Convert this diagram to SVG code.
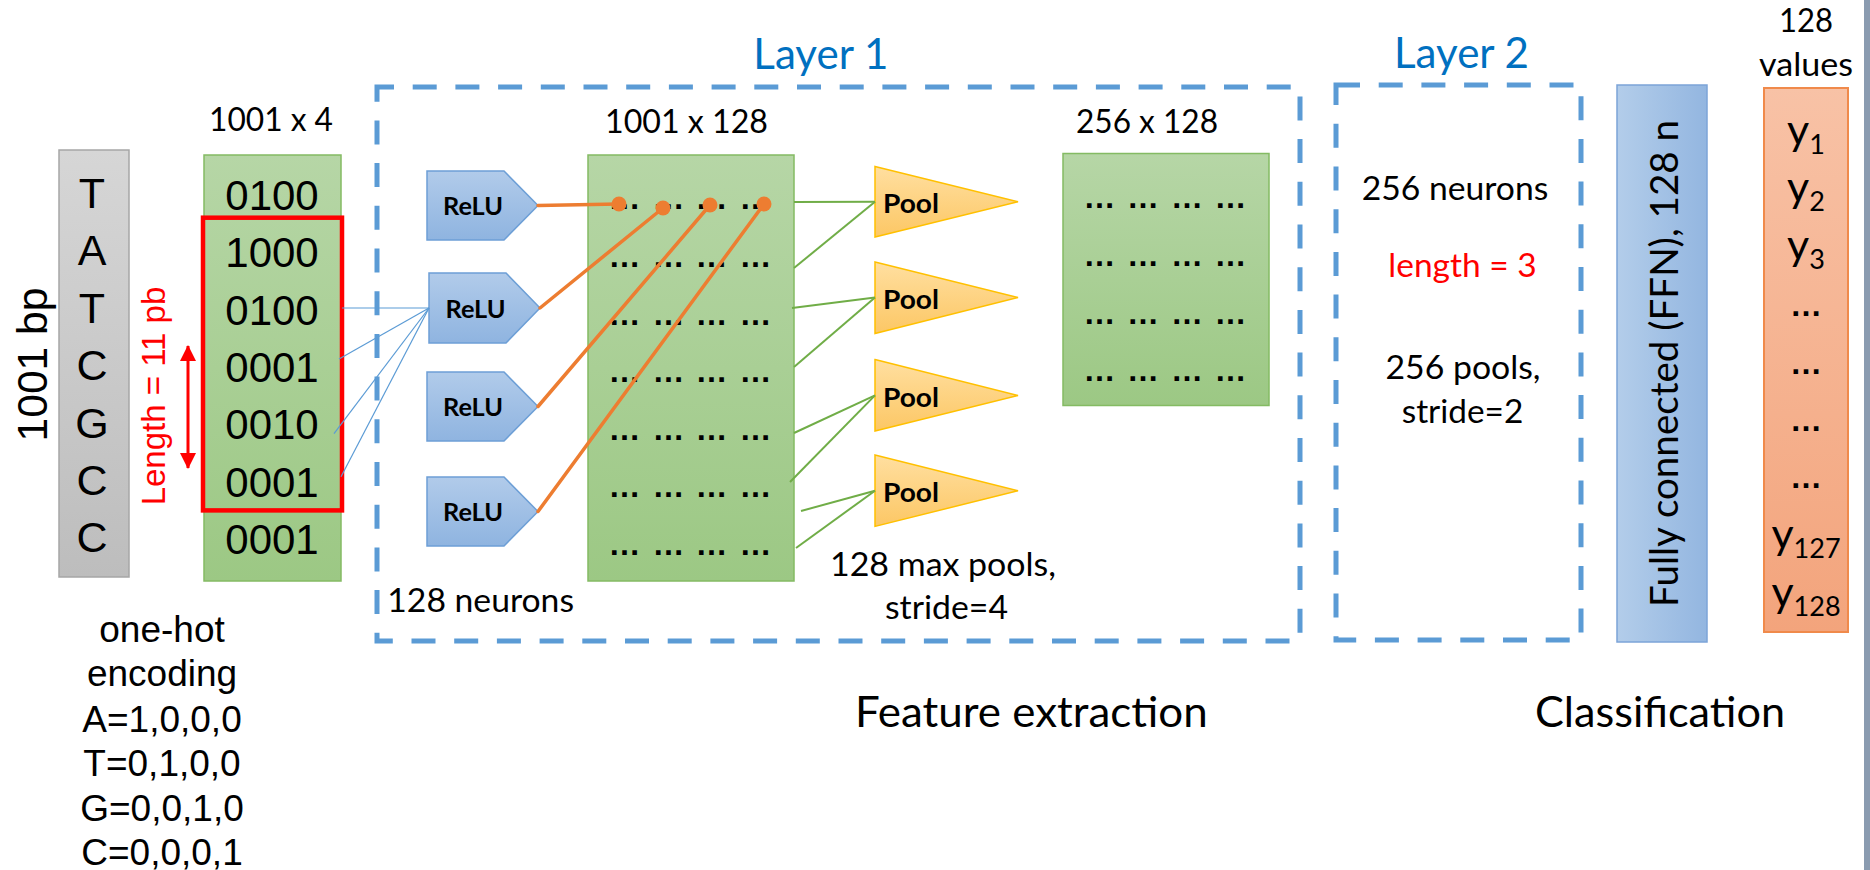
<svg xmlns="http://www.w3.org/2000/svg" width="1870" height="870" viewBox="0 0 1870 870">
  <defs>
    <linearGradient id="gGreen" x1="0" y1="0" x2="0" y2="1">
      <stop offset="0" stop-color="#b6d6a6"/>
      <stop offset="1" stop-color="#9cc884"/>
    </linearGradient>
    <linearGradient id="gGray" x1="0" y1="0" x2="0" y2="1">
      <stop offset="0" stop-color="#d6d6d6"/>
      <stop offset="1" stop-color="#bdbdbd"/>
    </linearGradient>
    <linearGradient id="gRelu" x1="0" y1="0" x2="0" y2="1">
      <stop offset="0" stop-color="#b1cbea"/>
      <stop offset="1" stop-color="#8fb4e0"/>
    </linearGradient>
    <linearGradient id="gFfn" x1="0" y1="0" x2="1" y2="0">
      <stop offset="0" stop-color="#b3cdea"/>
      <stop offset="1" stop-color="#93b6e0"/>
    </linearGradient>
    <linearGradient id="gPool" x1="0" y1="0" x2="0" y2="1">
      <stop offset="0" stop-color="#ffdfa0"/>
      <stop offset="1" stop-color="#fcc765"/>
    </linearGradient>
    <linearGradient id="gOut" x1="0" y1="0" x2="0" y2="1">
      <stop offset="0" stop-color="#f8c2a6"/>
      <stop offset="1" stop-color="#f3a47c"/>
    </linearGradient>
    <marker id="redHead" viewBox="0 0 16 16" refX="15" refY="8" markerWidth="16" markerHeight="16" markerUnits="userSpaceOnUse" orient="auto-start-reverse">
      <path d="M0,0 L16,8 L0,16 z" fill="#ff0000"/>
    </marker>
  </defs>
  <style>
    .cal{font-family:Lato,'Liberation Sans',sans-serif;fill:#000}
    .ari{font-family:'Liberation Sans',Arial,sans-serif;fill:#000}
    .blue{fill:#0070c0}
    .red{fill:#ff0000}
    .mid{text-anchor:middle}
    .dash{fill:none;stroke:#5b9bd5;stroke-width:5;stroke-dasharray:24 18.7}
    .relu{fill:url(#gRelu);stroke:#6d9fd6;stroke-width:1.5}
    .pool{fill:url(#gPool);stroke:#ffc000;stroke-width:1.5}
    .map{fill:url(#gGreen);stroke:#84bb63;stroke-width:1.5}
    .dots{font-family:'Liberation Sans',Arial,sans-serif;font-weight:bold;font-size:32px;text-anchor:middle;fill:#000}
    .wire-b{stroke:#5b9bd5;stroke-width:1.2;fill:none}
    .wire-g{stroke:#70ad47;stroke-width:2;fill:none}
    .wire-o{stroke:#ed7d31;stroke-width:3.5;fill:none;stroke-linecap:round}
    .knot{fill:#ed7d31}
  </style>

  <rect width="1870" height="870" fill="#ffffff"/>
  <!-- slide edge -->
  <rect x="1864" y="0" width="6" height="870" fill="#8a9bb0"/>

  <!-- DNA input sequence -->
  <g id="input-seq">
    <rect x="59" y="150" width="70" height="427" fill="url(#gGray)" stroke="#a6a6a6" stroke-width="1.5"/>
    <text class="ari mid" font-size="43" x="92" y="208">T</text>
    <text class="ari mid" font-size="43" x="92" y="265.4">A</text>
    <text class="ari mid" font-size="43" x="92" y="322.8">T</text>
    <text class="ari mid" font-size="43" x="92" y="380.2">C</text>
    <text class="ari mid" font-size="43" x="92" y="437.6">G</text>
    <text class="ari mid" font-size="43" x="92" y="495">C</text>
    <text class="ari mid" font-size="43" x="92" y="552.4">C</text>
    <text class="ari mid" font-size="43" transform="translate(47,364.5) rotate(-90)" textLength="154" lengthAdjust="spacingAndGlyphs">1001 bp</text>
  </g>

  <!-- one-hot matrix -->
  <g id="onehot-matrix">
    <text class="cal mid" font-size="32.5" x="271" y="130.6" textLength="124" lengthAdjust="spacingAndGlyphs">1001 x 4</text>
    <rect x="204" y="155" width="137" height="426" class="map"/>
    <text class="ari mid" font-size="42" x="272" y="209.8">0100</text>
    <text class="ari mid" font-size="42" x="272" y="267.2">1000</text>
    <text class="ari mid" font-size="42" x="272" y="324.6">0100</text>
    <text class="ari mid" font-size="42" x="272" y="382">0001</text>
    <text class="ari mid" font-size="42" x="272" y="439.4">0010</text>
    <text class="ari mid" font-size="42" x="272" y="496.8">0001</text>
    <text class="ari mid" font-size="42" x="272" y="554.2">0001</text>
  </g>

  <!-- convolution window -->
  <g id="window">
    <rect x="203" y="217.7" width="139" height="292.7" fill="none" stroke="#ff0000" stroke-width="4.5"/>
    <line x1="188" y1="346" x2="188" y2="468" stroke="#ff0000" stroke-width="3" marker-start="url(#redHead)" marker-end="url(#redHead)"/>
    <text class="ari mid red" font-size="33" transform="translate(165,396) rotate(-90)">Length = 11 pb</text>
  </g>

  <!-- encoding legend -->
  <g id="encoding-legend">
    <text class="ari mid" font-size="37" x="162" y="641.7">one-hot</text>
    <text class="ari mid" font-size="37" x="162" y="686">encoding</text>
    <text class="ari mid" font-size="37" x="162" y="731.7">A=1,0,0,0</text>
    <text class="ari mid" font-size="37" x="162" y="776">T=0,1,0,0</text>
    <text class="ari mid" font-size="37" x="162" y="820.7">G=0,0,1,0</text>
    <text class="ari mid" font-size="37" x="162" y="865">C=0,0,0,1</text>
  </g>

  <!-- Layer 1 frame -->
  <g id="layer1">
    <rect x="377" y="87" width="923" height="554" class="dash" stroke-dashoffset="7"/>
    <text class="cal mid blue" font-size="43" x="820.8" y="69.3" textLength="135" lengthAdjust="spacingAndGlyphs">Layer 1</text>
    <text class="cal" font-size="32.5" x="387.3" y="611.7" textLength="186.7" lengthAdjust="spacingAndGlyphs">128 neurons</text>
    <text class="cal mid" font-size="32.5" x="943" y="575.7" textLength="226" lengthAdjust="spacingAndGlyphs">128 max pools,</text>
    <text class="cal mid" font-size="32.5" x="946.5" y="619.3" textLength="123" lengthAdjust="spacingAndGlyphs">stride=4</text>
  </g>

  <!-- ReLU neurons -->
  <g id="relu1">
    <polygon class="relu" points="427,171 504,171 538,205.5 504,240 427,240"/>
    <text class="cal" font-weight="bold" font-size="24" x="443" y="215" textLength="60" lengthAdjust="spacingAndGlyphs">ReLU</text>
  </g>
  <g id="relu2">
    <polygon class="relu" points="429,273 506,273 540,308 506,343 429,343"/>
    <text class="cal" font-weight="bold" font-size="24" x="445.5" y="317.5" textLength="60" lengthAdjust="spacingAndGlyphs">ReLU</text>
  </g>
  <g id="relu3">
    <polygon class="relu" points="427,372 504,372 538,406.5 504,441 427,441"/>
    <text class="cal" font-weight="bold" font-size="24" x="443" y="416" textLength="60" lengthAdjust="spacingAndGlyphs">ReLU</text>
  </g>
  <g id="relu4">
    <polygon class="relu" points="427,477 504,477 538,511.5 504,546 427,546"/>
    <text class="cal" font-weight="bold" font-size="24" x="443" y="521" textLength="60" lengthAdjust="spacingAndGlyphs">ReLU</text>
  </g>

  <!-- feature map after convolution -->
  <g id="conv-map">
    <text class="cal mid" font-size="32.5" x="686.5" y="133.3" textLength="163" lengthAdjust="spacingAndGlyphs">1001 x 128</text>
    <rect x="588" y="155" width="206" height="426" class="map"/>
    <text class="dots" x="624.5 668.5 711.5 755.5" y="208.5">…………</text>
    <text class="dots" x="624.5 668.5 711.5 755.5" y="266.5">…………</text>
    <text class="dots" x="624.5 668.5 711.5 755.5" y="324.5">…………</text>
    <text class="dots" x="624.5 668.5 711.5 755.5" y="381.5">…………</text>
    <text class="dots" x="624.5 668.5 711.5 755.5" y="439.5">…………</text>
    <text class="dots" x="624.5 668.5 711.5 755.5" y="496.5">…………</text>
    <text class="dots" x="624.5 668.5 711.5 755.5" y="554.5">…………</text>
  </g>

  <!-- max pools -->
  <g id="pool1">
    <polygon class="pool" points="875,166.4 1018,201.8 875,237"/>
    <text class="cal" font-weight="bold" font-size="27" x="883" y="213" textLength="56" lengthAdjust="spacingAndGlyphs">Pool</text>
  </g>
  <g id="pool2">
    <polygon class="pool" points="875,262 1018,297.5 875,333.6"/>
    <text class="cal" font-weight="bold" font-size="27" x="883" y="308.7" textLength="56" lengthAdjust="spacingAndGlyphs">Pool</text>
  </g>
  <g id="pool3">
    <polygon class="pool" points="875,359.6 1018,395.4 875,431"/>
    <text class="cal" font-weight="bold" font-size="27" x="883" y="406.6" textLength="56" lengthAdjust="spacingAndGlyphs">Pool</text>
  </g>
  <g id="pool4">
    <polygon class="pool" points="875,455 1018,490.7 875,526.4"/>
    <text class="cal" font-weight="bold" font-size="27" x="883" y="501.9" textLength="56" lengthAdjust="spacingAndGlyphs">Pool</text>
  </g>

  <!-- pooled feature map -->
  <g id="pooled-map">
    <text class="cal mid" font-size="32.5" x="1147" y="133.3" textLength="142" lengthAdjust="spacingAndGlyphs">256 x 128</text>
    <rect x="1063" y="153.5" width="206" height="252" class="map"/>
    <text class="dots" x="1099.5 1143 1187 1230.5" y="207.5">…………</text>
    <text class="dots" x="1099.5 1143 1187 1230.5" y="265.5">…………</text>
    <text class="dots" x="1099.5 1143 1187 1230.5" y="323.5">…………</text>
    <text class="dots" x="1099.5 1143 1187 1230.5" y="380.5">…………</text>
  </g>

  <!-- Layer 2 frame -->
  <g id="layer2">
    <rect x="1336" y="85" width="245" height="555" class="dash"/>
    <text class="cal mid blue" font-size="43" x="1461.5" y="68.3" textLength="135" lengthAdjust="spacingAndGlyphs">Layer 2</text>
    <text class="cal mid" font-size="32.5" x="1455" y="200" textLength="186.6" lengthAdjust="spacingAndGlyphs">256 neurons</text>
    <text class="cal mid red" font-size="33" x="1462.5" y="276.7" textLength="148.4" lengthAdjust="spacingAndGlyphs">length = 3</text>
    <text class="cal mid" font-size="32.5" x="1463" y="379.3" textLength="155" lengthAdjust="spacingAndGlyphs">256 pools,</text>
    <text class="cal mid" font-size="32.5" x="1462.5" y="423.3" textLength="121.6" lengthAdjust="spacingAndGlyphs">stride=2</text>
  </g>

  <!-- fully connected layer -->
  <g id="ffn">
    <rect x="1617" y="85" width="90" height="557" fill="url(#gFfn)" stroke="#7ca4d8" stroke-width="1.5"/>
    <text class="cal mid" font-size="38" transform="translate(1677.5,363.5) rotate(-90)" textLength="487" lengthAdjust="spacingAndGlyphs">Fully connected (FFN), 128 n</text>
  </g>

  <!-- output vector -->
  <g id="output">
    <text class="cal mid" font-size="32.5" x="1806" y="31.7" textLength="54" lengthAdjust="spacingAndGlyphs">128</text>
    <text class="cal mid" font-size="32.5" x="1806" y="75.5" textLength="94" lengthAdjust="spacingAndGlyphs">values</text>
    <rect x="1764" y="88" width="84" height="544" fill="url(#gOut)" stroke="#f08a4b" stroke-width="2"/>
    <text class="cal mid" font-size="43" x="1806" y="145">y<tspan font-size="27" dy="9">1</tspan></text>
    <text class="cal mid" font-size="43" x="1806" y="202">y<tspan font-size="27" dy="9">2</tspan></text>
    <text class="cal mid" font-size="43" x="1806" y="260">y<tspan font-size="27" dy="9">3</tspan></text>
    <text class="dots" x="1806" y="315.5">…</text>
    <text class="dots" x="1806" y="373.5">…</text>
    <text class="dots" x="1806" y="431">…</text>
    <text class="dots" x="1806" y="488">…</text>
    <text class="cal mid" font-size="43" x="1806" y="549">y<tspan font-size="27" dy="9">127</tspan></text>
    <text class="cal mid" font-size="43" x="1806" y="606.7">y<tspan font-size="27" dy="9">128</tspan></text>
  </g>

  <!-- stage captions -->
  <g id="captions">
    <text class="cal mid" font-size="42" x="1031.3" y="726.7" textLength="352.7" lengthAdjust="spacingAndGlyphs">Feature extraction</text>
    <text class="cal mid" font-size="42" x="1660" y="726.7" textLength="250" lengthAdjust="spacingAndGlyphs">Classification</text>
  </g>

  <!-- connectors -->
  <g id="connectors">
    <!-- window rows into the second ReLU -->
    <line class="wire-b" x1="342" y1="308" x2="429" y2="308"/>
    <line class="wire-b" x1="339" y1="359" x2="429" y2="308"/>
    <line class="wire-b" x1="334" y1="433.6" x2="429" y2="308"/>
    <line class="wire-b" x1="341" y1="476.7" x2="429" y2="308"/>
    <!-- ReLU outputs into the feature map -->
    <line class="wire-o" x1="538" y1="205.5" x2="619" y2="204"/>
    <line class="wire-o" x1="540" y1="308" x2="663" y2="208"/>
    <line class="wire-o" x1="538" y1="406.5" x2="710" y2="205"/>
    <line class="wire-o" x1="538" y1="511.5" x2="764" y2="204"/>
    <circle class="knot" cx="619" cy="204" r="7.5"/>
    <circle class="knot" cx="663" cy="208" r="7.5"/>
    <circle class="knot" cx="710" cy="205" r="7.5"/>
    <circle class="knot" cx="764" cy="204" r="7.5"/>
    <!-- feature map rows into the pools -->
    <line class="wire-g" x1="794" y1="202" x2="875" y2="201.8"/>
    <line class="wire-g" x1="794" y1="268" x2="875" y2="201.8"/>
    <line class="wire-g" x1="792" y1="308" x2="875" y2="297.5"/>
    <line class="wire-g" x1="794" y1="367" x2="875" y2="297.5"/>
    <line class="wire-g" x1="794" y1="433" x2="875" y2="395.4"/>
    <line class="wire-g" x1="790" y1="482" x2="875" y2="395.4"/>
    <line class="wire-g" x1="801" y1="511" x2="875" y2="490.7"/>
    <line class="wire-g" x1="796" y1="548" x2="875" y2="490.7"/>
  </g>
</svg>
